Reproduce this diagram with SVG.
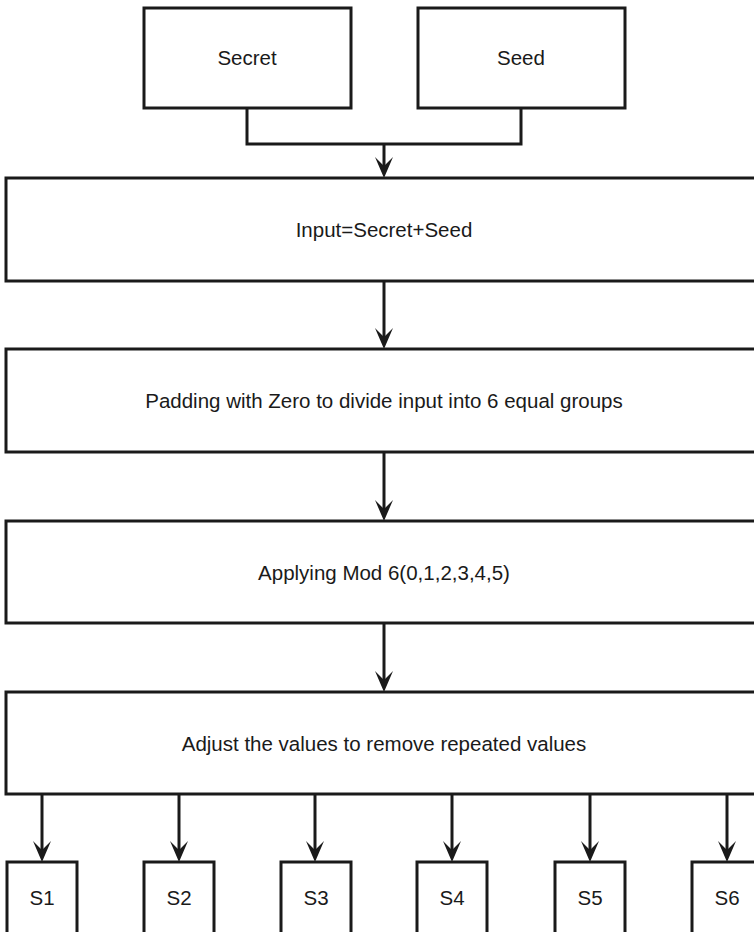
<svg xmlns="http://www.w3.org/2000/svg" width="754" height="932" viewBox="0 0 754 932">
  <style>
    .box { fill: #ffffff; stroke: #1a1a1a; stroke-width: 3; }
    .edge { fill: none; stroke: #1a1a1a; stroke-width: 3; }
    .head { fill: #1a1a1a; }
    .label { font-family: "Liberation Sans", Arial, sans-serif; font-size: 20.5px; fill: #1a1a1a; text-anchor: middle; dominant-baseline: central; }
  </style>
  <defs>
    <!-- downward arrowhead, tip at origin -->
    <path id="head" class="head" d="M0,0 L-9,-21 L0,-12 L9,-21 Z"/>
  </defs>
  <rect width="754" height="932" fill="#ffffff"/>

  <!-- connectors -->
  <g id="connectors">
    <path class="edge" d="M247,108 V144 H521 V108"/>
    <path class="edge" d="M384,144 V172"/>
    <path class="edge" d="M384,281 V343"/>
    <path class="edge" d="M384,452 V515"/>
    <path class="edge" d="M384,623 V686"/>
    <path class="edge" d="M42,794 V856"/>
    <path class="edge" d="M179,794 V856"/>
    <path class="edge" d="M315,794 V856"/>
    <path class="edge" d="M452,794 V856"/>
    <path class="edge" d="M590,794 V856"/>
    <path class="edge" d="M727,794 V856"/>
    <use href="#head" x="384" y="178"/>
    <use href="#head" x="384" y="349"/>
    <use href="#head" x="384" y="521"/>
    <use href="#head" x="384" y="692"/>
    <use href="#head" x="42" y="862"/>
    <use href="#head" x="179" y="862"/>
    <use href="#head" x="315" y="862"/>
    <use href="#head" x="452" y="862"/>
    <use href="#head" x="590" y="862"/>
    <use href="#head" x="727" y="862"/>
  </g>

  <g id="secret">
    <rect class="box" x="144" y="8" width="207" height="100"/>
    <text class="label" x="247" y="57">Secret</text>
  </g>
  <g id="seed">
    <rect class="box" x="418" y="8" width="207" height="100"/>
    <text class="label" x="521" y="57">Seed</text>
  </g>
  <g id="input">
    <rect class="box" x="6" y="178" width="756" height="103"/>
    <text class="label" x="384" y="229">Input=Secret+Seed</text>
  </g>
  <g id="padding">
    <rect class="box" x="6" y="349" width="756" height="103"/>
    <text class="label" x="384" y="400">Padding with Zero to divide input into 6 equal groups</text>
  </g>
  <g id="mod">
    <rect class="box" x="6" y="521" width="756" height="102"/>
    <text class="label" x="384" y="572">Applying Mod 6(0,1,2,3,4,5)</text>
  </g>
  <g id="adjust">
    <rect class="box" x="6" y="692" width="756" height="102"/>
    <text class="label" x="384" y="743">Adjust the values to remove repeated values</text>
  </g>

  <g id="s1">
    <rect class="box" x="7" y="862" width="70" height="80"/>
    <text class="label" x="42" y="897">S1</text>
  </g>
  <g id="s2">
    <rect class="box" x="144" y="862" width="70" height="80"/>
    <text class="label" x="179" y="897">S2</text>
  </g>
  <g id="s3">
    <rect class="box" x="281" y="862" width="70" height="80"/>
    <text class="label" x="316" y="897">S3</text>
  </g>
  <g id="s4">
    <rect class="box" x="417" y="862" width="70" height="80"/>
    <text class="label" x="452" y="897">S4</text>
  </g>
  <g id="s5">
    <rect class="box" x="555" y="862" width="70" height="80"/>
    <text class="label" x="590" y="897">S5</text>
  </g>
  <g id="s6">
    <rect class="box" x="692" y="862" width="70" height="80"/>
    <text class="label" x="727" y="897">S6</text>
  </g>
</svg>
